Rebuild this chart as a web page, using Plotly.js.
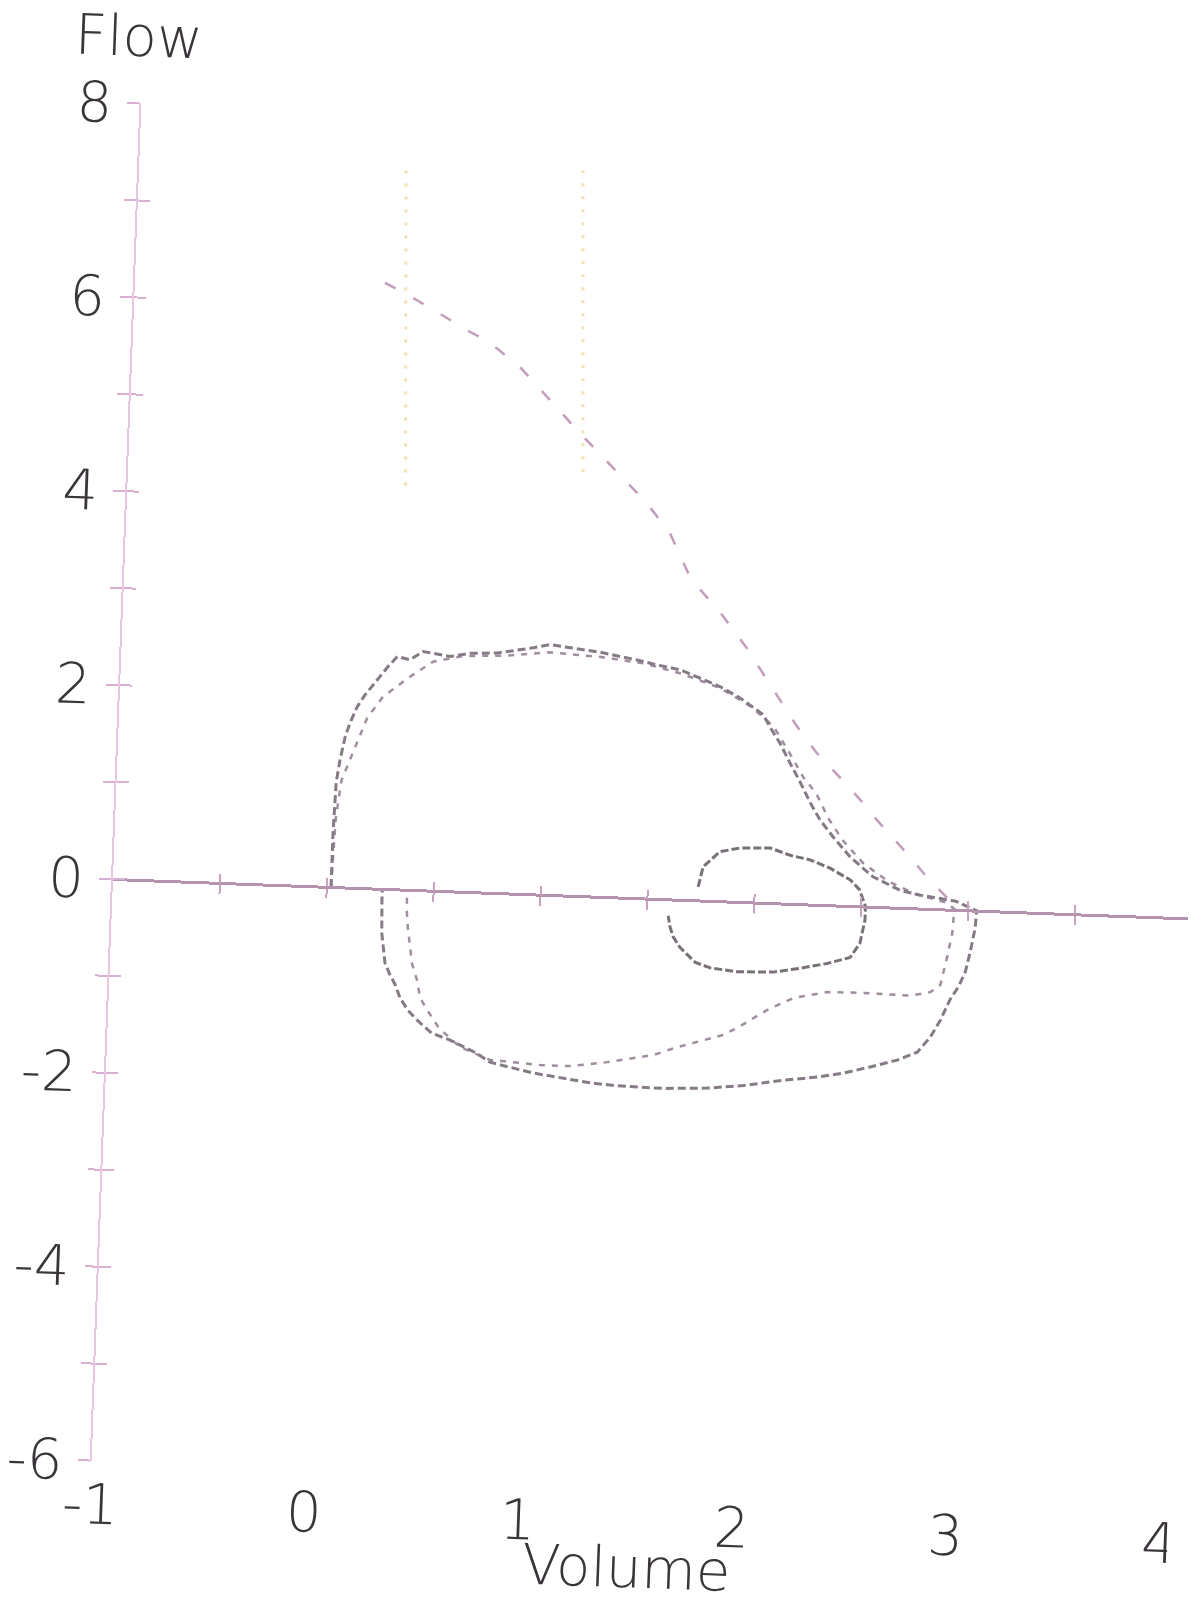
<!DOCTYPE html>
<html>
<head>
<meta charset="utf-8">
<script src="https://cdn.plot.ly/plotly-3.0.1.min.js"></script>
<style>
html, body { margin: 0; padding: 0; background: #ffffff; overflow: hidden; }
#chart { width: 1191px; height: 1601px; transform: rotate(2.1deg); transform-origin: 113px 879px; }
</style>
</head>
<body>
<div id="chart"></div>
<script>
// ---- Data (Volume in L, Flow in L/s) ----
const trial1Vol = [0.02, 0.02, 0.026, 0.04, 0.06, 0.081, 0.111, 0.145, 0.20, 0.244, 0.29, 0.35, 0.41, 0.537, 0.63, 0.76, 0.923, 1.0, 1.237, 1.41, 1.506, 1.614, 1.709, 1.804, 1.90, 2.009, 2.044, 2.093, 2.143, 2.193, 2.244, 2.293, 2.357, 2.44, 2.55, 2.68, 2.77, 2.94, 3.04,
  3.036, 3.017, 2.997, 2.967, 2.93, 2.89, 2.845, 2.787, 2.694, 2.57, 2.444, 2.323, 2.165, 1.98, 1.81, 1.606, 1.39, 1.264, 1.156, 1.062, 0.996, 0.887, 0.793, 0.73, 0.60, 0.517, 0.445, 0.40, 0.362, 0.336, 0.311, 0.285, 0.265, 0.26, 0.26];
const trial1Flow = [0, 0.56, 1.08, 1.31, 1.55, 1.70, 1.865, 1.99, 2.15, 2.28, 2.40, 2.37, 2.46, 2.42, 2.46, 2.475, 2.54, 2.58, 2.52, 2.455, 2.41, 2.37, 2.29, 2.21, 2.10, 1.94, 1.81, 1.65, 1.45, 1.26, 1.05, 0.875, 0.705, 0.505, 0.31, 0.18, 0.14, 0.09, 0,
  -0.18, -0.43, -0.64, -0.795, -0.93, -1.14, -1.32, -1.48, -1.57, -1.65, -1.725, -1.775, -1.82, -1.89, -1.93, -1.95, -1.94, -1.92, -1.89, -1.86, -1.84, -1.79, -1.745, -1.66, -1.53, -1.47, -1.34, -1.24, -1.12, -0.98, -0.886, -0.763, -0.457, -0.115, 0];

const trial2Vol = [0.02, 0.03, 0.05, 0.108, 0.16, 0.23, 0.349, 0.458, 0.6, 0.8, 1.0, 1.25, 1.45, 1.62, 1.8, 1.95, 2.06, 2.14, 2.21, 2.27, 2.33, 2.40, 2.5, 2.62, 2.75, 2.9, 2.94,
  2.935, 2.93, 2.91, 2.883, 2.837, 2.744, 2.524, 2.356, 2.198, 2.08, 1.94, 1.872, 1.664, 1.553, 1.493, 1.34, 1.167, 1.027, 0.79, 0.65, 0.60, 0.544, 0.49, 0.455, 0.438, 0.41, 0.40, 0.387, 0.379, 0.375];
const trial2Flow = [0, 0.7, 1.1, 1.45, 1.755, 1.98, 2.19, 2.36, 2.43, 2.45, 2.5, 2.47, 2.42, 2.33, 2.2, 2.02, 1.82, 1.55, 1.3, 1.15, 0.9, 0.68, 0.45, 0.27, 0.15, 0.07, 0,
  -0.02, -0.24, -0.49, -0.78, -0.857, -0.90, -0.89, -0.895, -0.97, -1.10, -1.30, -1.38, -1.52, -1.61, -1.636, -1.70, -1.755, -1.755, -1.72, -1.60, -1.51, -1.40, -1.23, -1.11, -0.93, -0.75, -0.59, -0.416, -0.24, 0];

const tidalVol = [1.735, 1.755, 1.83, 1.925, 2.065, 2.16, 2.254, 2.35, 2.444, 2.49, 2.52, 2.52, 2.50, 2.457, 2.351, 2.226, 2.10, 1.93, 1.805, 1.735, 1.66, 1.627, 1.61, 1.60];
const tidalFlow = [0.14, 0.35, 0.51, 0.557, 0.567, 0.50, 0.46, 0.38, 0.27, 0.17, 0, -0.14, -0.38, -0.53, -0.60, -0.66, -0.71, -0.72, -0.69, -0.64, -0.49, -0.385, -0.28, -0.17];

const predVol = [0.168, 0.254, 0.416, 0.574, 0.659, 0.813, 1.105, 1.429, 1.542, 1.648, 1.789, 1.921, 2.044, 2.168, 2.266, 2.314, 2.509, 2.558, 2.733, 2.801, 2.91];
const predFlow = [6.243, 6.157, 5.964, 5.77, 5.684, 5.43, 4.77, 4.075, 3.775, 3.31, 2.98, 2.62, 2.227, 1.834, 1.564, 1.464, 1.027, 0.897, 0.498, 0.328, 0.1];

const markAVol = [0.247, 0.30];
const markAFlow = [7.41, 4.12];
const markBVol = [1.074, 1.127];
const markBFlow = [7.48, 4.29];

const yTickVals = [-6, -5, -4, -3, -2, -1, 0, 1, 2, 3, 4, 5, 6, 7, 8];
const yTickText = ['-6', '', '-4', '', '-2', '', '0', '', '2', '', '4', '', '6', '', '8'];
const xTickVals = [-1, 0, 1, 2, 3, 4];
const xTickText = ['-1', '0', '1', '2', '3', '4'];
const axisTickVals = [-0.5, 0, 0.5, 1, 1.5, 2, 2.5, 3, 3.5];
const xTitle = 'Volume';
const yTitle = 'Flow';

// ---- Styling ----
const FONT = { family: '"DejaVu Sans", "Liberation Sans", sans-serif', size: 56, color: '#3a353a', weight: 200 };
const XR = [-1, 4.03];
const YR = [-6, 8];
const ZERO_POS = 6 / 14;

const traces = [
  { x: markAVol, y: markAFlow, xaxis: 'x3', yaxis: 'y', mode: 'lines',
    line: { color: '#f1e2ad', width: 3, dash: '3px,10px' } },
  { x: markBVol, y: markBFlow, xaxis: 'x3', yaxis: 'y', mode: 'lines',
    line: { color: '#f1e2ad', width: 3, dash: '3px,10px' } },
  { x: predVol, y: predFlow, xaxis: 'x', yaxis: 'y2', mode: 'lines',
    line: { color: '#c49cbc', width: 2.5, dash: '12px,20px' } },
  { x: trial2Vol, y: trial2Flow, xaxis: 'x', yaxis: 'y', mode: 'lines',
    line: { color: '#a08ea0', width: 2.5, dash: '6px,7px' } },
  { x: trial1Vol, y: trial1Flow, xaxis: 'x', yaxis: 'y', mode: 'lines',
    line: { color: '#857a86', width: 3, dash: '8px,4px' } },
  { x: tidalVol, y: tidalFlow, xaxis: 'x2', yaxis: 'y', mode: 'lines',
    line: { color: '#7a707a', width: 3, dash: '8px,3px' } }
];

const layout = {
  width: 1191, height: 1601,
  margin: { l: 113, r: 2, t: 103, b: 140 },
  paper_bgcolor: '#ffffff', plot_bgcolor: 'rgba(0,0,0,0)',
  showlegend: false, hovermode: false,
  title: { text: yTitle, font: FONT, x: 108 / 1191, xanchor: 'center', y: 1 - 36 / 1601, yanchor: 'middle' },
  annotations: [
    { text: xTitle, font: FONT, xref: 'paper', yref: 'paper', x: 0.5, y: 0,
      xanchor: 'center', yanchor: 'middle', yshift: -87, showarrow: false }
  ],
  xaxis: {
    range: XR, showline: false, zeroline: false, showgrid: false,
    tickvals: xTickVals, ticktext: xTickText, ticks: '', tickfont: FONT, ticklabelstandoff: 6,
    ticklabeloverflow: 'allow'
  },
  xaxis2: {
    range: XR, overlaying: 'x', anchor: 'free', position: ZERO_POS,
    showline: true, linecolor: '#b592ae', linewidth: 3,
    ticks: 'outside', ticklen: 9, tickwidth: 2, tickcolor: '#c9a2c2',
    tickvals: axisTickVals, showticklabels: false, showgrid: false, zeroline: false
  },
  xaxis3: {
    range: XR, overlaying: 'x', anchor: 'free', position: ZERO_POS,
    showline: false,
    ticks: 'inside', ticklen: 9, tickwidth: 2, tickcolor: '#c9a2c2',
    tickvals: axisTickVals, showticklabels: false, showgrid: false, zeroline: false
  },
  yaxis: {
    range: YR, showline: true, linecolor: '#e8c6e2', linewidth: 2,
    zeroline: false, showgrid: false,
    tickvals: yTickVals, ticktext: yTickText, ticks: 'outside', ticklen: 12, tickwidth: 2, tickcolor: '#dab0d2',
    tickfont: FONT, ticklabelstandoff: 4, ticklabeloverflow: 'allow'
  },
  yaxis2: {
    range: YR, overlaying: 'y', anchor: 'x', side: 'left',
    showline: false, zeroline: false, showgrid: false,
    tickvals: yTickVals, ticks: 'inside', ticklen: 12, tickwidth: 2, tickcolor: '#dab0d2',
    showticklabels: false
  }
};

Plotly.newPlot('chart', traces, layout, { staticPlot: true, displayModeBar: false });
</script>
</body>
</html>
